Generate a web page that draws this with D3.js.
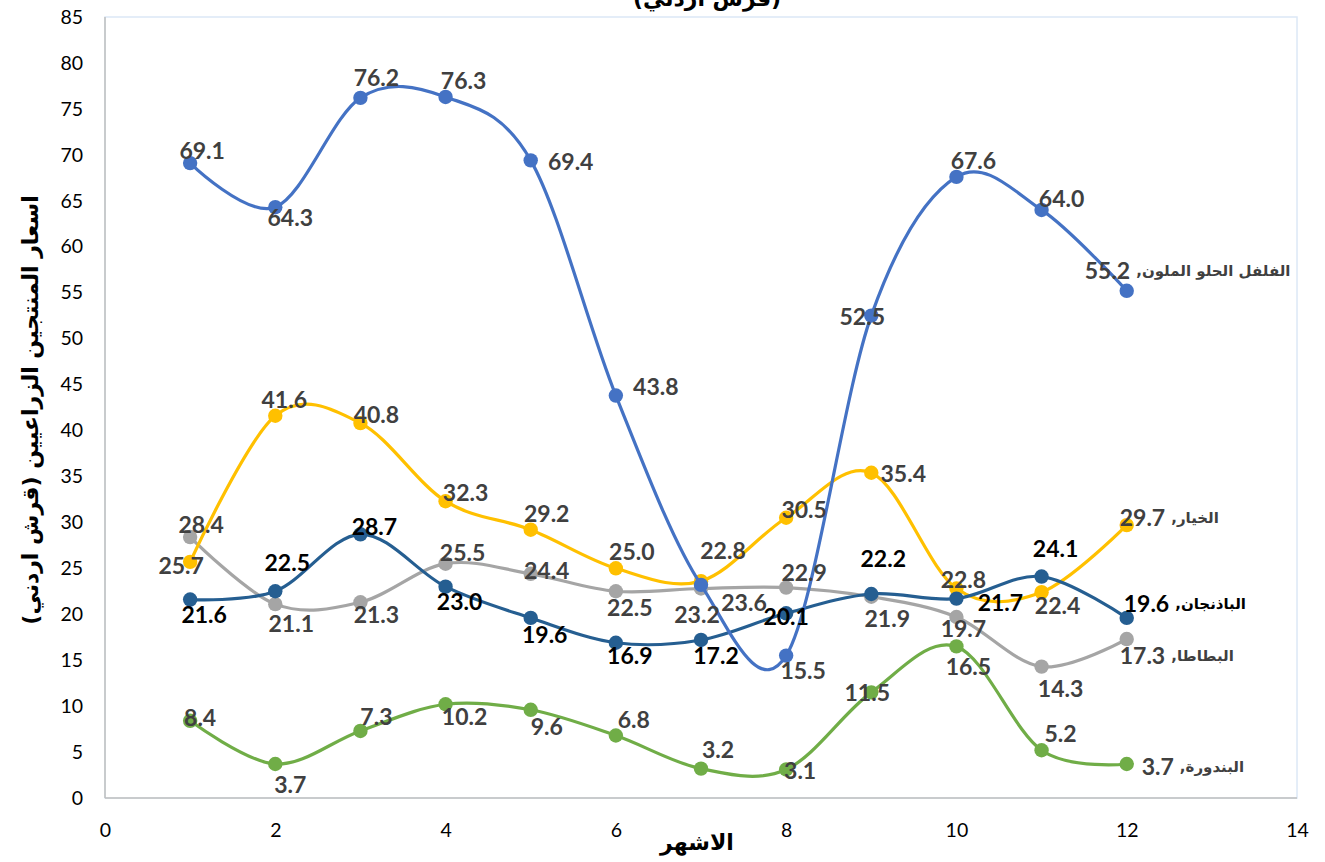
<!DOCTYPE html>
<html><head><meta charset="utf-8">
<script src="https://cdn.jsdelivr.net/npm/d3@7"></script>
<style>body{margin:0;background:#fff;} svg{display:block;}</style>
</head><body>
<svg id="c" width="1325" height="862"></svg>
<script>
// ---- data ----
const months = [1,2,3,4,5,6,7,8,9,10,11,12];
const xTickValues = [0,2,4,6,8,10,12,14];
const yTickValues = [0,5,10,15,20,25,30,35,40,45,50,55,60,65,70,75,80,85];
const seriesNames = ["الفلفل الحلو الملون","الخيار","الباذنجان","البطاطا","البندورة"];
const pepper   = [69.1,64.3,76.2,76.3,69.4,43.8,23.2,15.5,52.5,67.6,64.0,55.2];
const cucumber = [25.7,41.6,40.8,32.3,29.2,25.0,23.6,30.5,35.4,22.8,22.4,29.7];
const eggplant = [21.6,22.5,28.7,23.0,19.6,16.9,17.2,20.1,22.2,21.7,24.1,19.6];
const potato   = [28.4,21.1,21.3,25.5,24.4,22.5,22.8,22.9,21.9,19.7,14.3,17.3];
const tomato   = [8.4,3.7,7.3,10.2,9.6,6.8,3.2,3.1,11.5,16.5,5.2,3.7];
const titleText = "(قرش اردني)";
const yTitle = "اسعار المنتجين الزراعيين (قرش اردني)";
const xTitle = "الاشهر";

// ---- label placement (offsets from point, px) ----
const pepperLab   = [[12,-13],[15,10],[16,-21],[18,-17],[40,1],[40,-10],[-4,29],[17,14],[-9,0],[17,-17],[20,-12],[-42,-21]];
const cucumberLab = [[-9,3],[9,-17],[16,-9],[20,-9],[16,-17],[16,-17],[43,21],[18,-9],[32,0],[7,-10],[16,13],[-7,-8]];
const eggplantLab = [[14,14],[12,-29],[14,-8],[14,14],[14,16],[14,12],[15,15],[0,3],[12,-36],[44,3],[14,-29],[-3,-15]];
const potatoLab   = [[11,-13],[16,19],[16,12],[17,-12],[16,-4],[14,16],[22,-39],[18,-16],[16,21],[7,11],[19,21],[-7,16]];
const tomatoLab   = [[10,-4],[15,20],[16,-15],[19,12],[16,16],[18,-17],[17,-20],[14,0],[-4,0],[12,20],[19,-17],[15,2]];

const series = [
  {name: seriesNames[3], values: potato,   color:"#A5A5A5", text:"#404040", lab: potatoLab},
  {name: seriesNames[1], values: cucumber, color:"#FFC000", text:"#404040", lab: cucumberLab},
  {name: seriesNames[4], values: tomato,   color:"#70AD47", text:"#404040", lab: tomatoLab},
  {name: seriesNames[2], values: eggplant, color:"#255E91", text:"#000000", lab: eggplantLab},
  {name: seriesNames[0], values: pepper,   color:"#4472C4", text:"#404040", lab: pepperLab}
];

const svg = d3.select("#c");
const x = d3.scaleLinear().domain([0,14]).range([105,1297]);
const y = d3.scaleLinear().domain([0,85]).range([798,17]);

// plot area border (faint)
svg.append("rect").attr("x",x(0)).attr("y",y(85)).attr("width",x(14)-x(0)).attr("height",y(0)-y(85))
  .attr("fill","none").attr("stroke","#DCE8F6").attr("stroke-width",1.5);

// axes
const tickFont = "Lato, 'Open Sans', sans-serif";
const gx = svg.append("g").attr("transform",`translate(0,${y(0)})`)
  .call(d3.axisBottom(x).tickValues(xTickValues).tickSize(0).tickPadding(25).tickFormat(d3.format("d")));
const gy = svg.append("g").attr("transform",`translate(${x(0)},0)`)
  .call(d3.axisLeft(y).tickValues(yTickValues).tickSize(0).tickPadding(22).tickFormat(d3.format("d")));
[gx,gy].forEach(g=>{
  g.select(".domain").remove();
  g.selectAll("text").attr("font-family",tickFont).attr("font-size",19.5).attr("fill","#000");
});
svg.append("line").attr("x1",x(0)).attr("x2",x(0)).attr("y1",y(85)).attr("y2",y(0)).attr("stroke","#BFBFBF").attr("stroke-width",1.5);
svg.append("line").attr("x1",x(0)).attr("x2",x(14)).attr("y1",y(0)).attr("y2",y(0)).attr("stroke","#BFBFBF").attr("stroke-width",1.5);

// titles
const arFont = "'DejaVu Sans', Arial, sans-serif";
svg.append("text").attr("x",707).attr("y",6).attr("text-anchor","middle")
  .attr("font-family",arFont).attr("font-weight","bold").attr("font-size",22).attr("fill","#000").text(titleText);
svg.append("text").attr("transform","translate(38,410) rotate(-90)").attr("text-anchor","middle")
  .attr("font-family",arFont).attr("font-weight","bold").attr("font-size",22).attr("fill","#000").text(yTitle);
svg.append("text").attr("x",697).attr("y",850).attr("text-anchor","middle")
  .attr("font-family",arFont).attr("font-weight","bold").attr("font-size",22).attr("fill","#000").text(xTitle);

// lines + markers
const line = d3.line().x((d,i)=>x(months[i])).y(d=>y(d)).curve(d3.curveCatmullRom.alpha(0));
const gLines = svg.append("g");
series.forEach(s=>{
  const g = gLines.append("g");
  g.append("path").attr("d",line(s.values)).attr("fill","none").attr("stroke",s.color)
    .attr("stroke-width",3.2).attr("stroke-linecap","round");
  g.selectAll("circle").data(s.values).join("circle")
    .attr("cx",(d,i)=>x(months[i])).attr("cy",d=>y(d)).attr("r",7.2).attr("fill",s.color);
});

// data labels
const labFont = "Lato, 'Open Sans', sans-serif";
const gLab = svg.append("g");
series.forEach(s=>{
  s.values.forEach((v,i)=>{
    const px = x(months[i]), py = y(v);
    const [dx,dy] = s.lab[i];
    const txt = d3.format(".1f")(v);
    if (i < s.values.length-1) {
      gLab.append("text").attr("x",px+dx).attr("y",py+dy).attr("text-anchor","middle")
        .attr("dominant-baseline","central").attr("font-family",labFont).attr("font-weight","bold")
        .attr("font-size",23).attr("fill",s.text).text(txt);
    } else {
      const t = gLab.append("text").attr("x",px+dx).attr("y",py+dy).attr("text-anchor","start")
        .attr("dominant-baseline","central").attr("font-family",labFont).attr("font-weight","bold")
        .attr("font-size",23).attr("fill",s.text).text(txt);
      const w = t.node().getComputedTextLength();
      gLab.append("text").attr("x",px+dx+w+6).attr("y",py+dy+1).attr("text-anchor","start")
        .attr("dominant-baseline","central").attr("font-family",arFont).attr("font-weight","bold")
        .attr("font-size",15).attr("fill",s.text).text("," + s.name);
    }
  });
});
</script>
</body></html>
